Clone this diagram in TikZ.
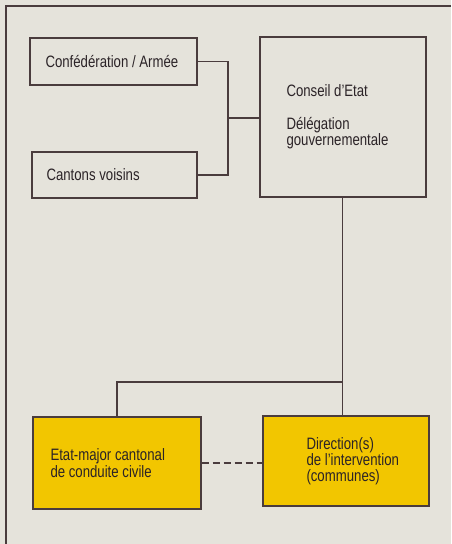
\documentclass[tikz,border=0pt]{standalone}
\usepackage{fontspec}
\setmainfont[FakeStretch=0.8]{Liberation Sans}
\usetikzlibrary{positioning}
\definecolor{paper}{HTML}{E5E3DB}
\definecolor{ink}{HTML}{4A3C3D}
\definecolor{jaune}{HTML}{F2C600}
\definecolor{texte}{HTML}{2B2327}
\begin{document}
\begin{tikzpicture}[x=1pt,y=-1pt,
  box/.style={draw=ink,line width=1.4pt,inner sep=0pt},
  boxj/.style={box,fill=jaune},
  txt/.style={inner sep=0pt,align=left,text=texte,font=\fontsize{16.5}{16.2}\selectfont},
  lien/.style={draw=ink,line width=1.4pt}]
\fill[paper] (0,0) rectangle (451,544);
\useasboundingbox (0,0) rectangle (451,544);
% cadre
\draw[lien,line width=1.7pt] (451,6) -- (6,6) -- (6,544);
% boites du haut
\node[box,minimum width=167pt,minimum height=47pt] (conf) at (113.5,61.5) {};
\node[txt,right=16pt of conf.west] (tconf) {Confédération / Armée};
\node[box,minimum width=165pt,minimum height=46pt] (cant) at (114.5,175) {};
\node[txt,right=15pt of cant.west] (tcant) {Cantons voisins};
\node[box,minimum width=166pt,minimum height=160pt] (conseil) at (343,117) {};
\node[txt,right=27pt of conseil.west] (tconseil) {Conseil d’Etat\\[16.5pt]Délégation\\gouvernementale};
% boites jaunes
\node[boxj,minimum width=168pt,minimum height=92pt] (etat) at (117,463) {};
\node[txt,right=18pt of etat.west] (tetat) {Etat-major cantonal\\de conduite civile};
\node[boxj,minimum width=166pt,minimum height=90pt] (dir) at (346,461) {};
\node[txt,right=44pt of dir.west] (tdir) {Direction(s)\\de l’intervention\\(communes)};
% liaisons
\coordinate (jn) at (228,118);
\coordinate (split) at (342.5,382);
\draw[lien] (conf.east) -| (jn) |- (cant.east);
\draw[lien] (jn) -- (jn -| conseil.west);
\draw[lien] (conseil.south -| split) -- (split |- dir.north);
\draw[lien] (split) -| (etat.north);
\draw[lien,dash pattern=on 7pt off 4pt] (etat.east) -- (etat.east -| dir.west);
\end{tikzpicture}
\end{document}
